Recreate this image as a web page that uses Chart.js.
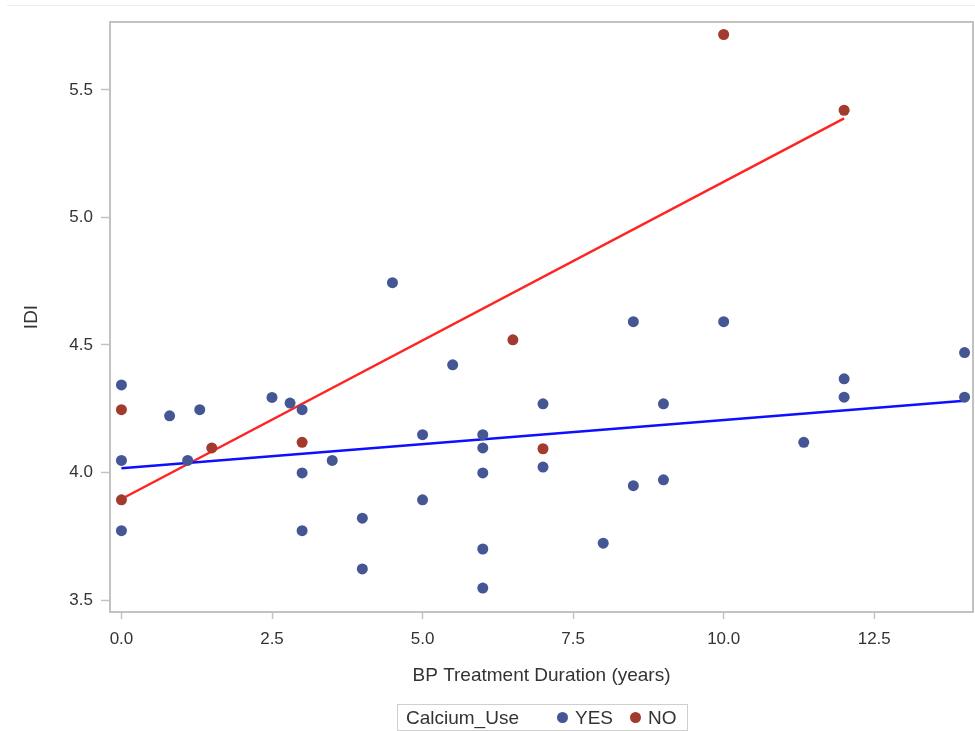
<!DOCTYPE html>
<html>
<head>
<meta charset="utf-8">
<script src="https://cdn.jsdelivr.net/npm/chart.js@4.4.1/dist/chart.umd.min.js"></script>
<style>
  body { margin: 0; background: #fff; }
  #wrap { position: relative; width: 975px; height: 731px; overflow: hidden; }
  #topline { position: absolute; left: 7px; right: 0; top: 5px; border-top: 1px solid #ececec; }
  #legend {
    position: absolute; left: 397px; top: 704px; width: 289px; height: 25px;
    border: 1px solid #cfcfcf; font: 19px "Liberation Sans", Arial, sans-serif; color: #333;
    display: flex; align-items: center; white-space: nowrap;
  }
  #legend .ttl { margin-left: 8px; margin-right: 38px; }
  #legend .dot { display: inline-block; width: 11px; height: 11px; border-radius: 50%; margin-right: 7px; }
  #legend .item { margin-right: 17px; display: flex; align-items: center; }
</style>
</head>
<body>
<div id="wrap">
  <div id="topline"></div>
  <canvas id="chart" width="975" height="731"></canvas>
  <div id="legend"></div>
</div>
<script>
// years of BP treatment vs IDI, split by calcium use
const yesX = [0, 0, 0, 0.8, 1.1, 1.3, 2.5, 2.8, 3, 3, 3, 3.5, 4, 4, 4.5, 5, 5, 5.5,
              6, 6, 6, 6, 6, 7, 7, 8, 8.5, 8.5, 9, 9, 10, 11.33, 12, 12, 14, 14];
const yesY = [4.343, 4.047, 3.772, 4.222, 4.047, 4.246, 4.294, 4.272, 4.246, 3.998, 3.772, 4.047, 3.821, 3.622, 4.744, 4.148, 3.893, 4.422,
              4.148, 4.096, 3.998, 3.70, 3.547, 4.269, 4.021, 3.723, 4.591, 3.948, 4.269, 3.971, 4.591, 4.118, 4.367, 4.295, 4.47, 4.295];
const noX = [0, 0, 1.5, 3, 6.5, 7, 10, 12];
const noY = [4.246, 3.893, 4.096, 4.118, 4.52, 4.093, 5.717, 5.42];

// fitted regression lines (end points)
const fitYesX = [0, 14];
const fitYesY = [4.017, 4.281];
const fitNoX = [0, 12];
const fitNoY = [3.896, 5.388];

const xTicks = [0, 2.5, 5, 7.5, 10, 12.5];
const yTicks = [3.5, 4.0, 4.5, 5.0, 5.5];

const groups = ['YES', 'NO'];
const groupColors = ['#445694', '#a23a2e'];
const lineColors = ['#0f0fff', '#ff2424'];

const FONT = '"Liberation Sans", Arial, sans-serif';
const TEXT = '#333';
const AXIS = '#c2c2c2';

function pts(xs, ys) {
    return xs.map((x, i) => ({ x: x, y: ys[i] }));
}

// draws the box around the plot area
const frame = {
    id: 'frame',
    afterDatasetsDraw(chart) {
        const a = chart.chartArea;
        const ctx = chart.ctx;
        ctx.save();
        ctx.strokeStyle = AXIS;
        ctx.lineWidth = 2;
        ctx.strokeRect(a.left, a.top, a.right - a.left, a.bottom - a.top);
        ctx.restore();
    }
};

new Chart(document.getElementById('chart'), {
    type: 'scatter',
    data: {
        datasets: [
            { label: groups[0], data: pts(yesX, yesY), backgroundColor: groupColors[0], borderWidth: 0, pointRadius: 5.5 },
            { label: groups[1], data: pts(noX, noY), backgroundColor: groupColors[1], borderWidth: 0, pointRadius: 5.5 },
            { label: 'fit ' + groups[0], data: pts(fitYesX, fitYesY), showLine: true, borderColor: lineColors[0], borderWidth: 2.5, pointRadius: 0 },
            { label: 'fit ' + groups[1], data: pts(fitNoX, fitNoY), showLine: true, borderColor: lineColors[1], borderWidth: 2.5, pointRadius: 0 }
        ]
    },
    options: {
        responsive: false,
        animation: false,
        devicePixelRatio: 1,
        layout: { autoPadding: false, padding: { left: 0, top: 22, right: 2, bottom: 34 } },
        plugins: { legend: { display: false }, tooltip: { enabled: false } },
        scales: {
            x: {
                type: 'linear',
                min: -0.19,
                max: 14.14,
                afterBuildTicks: s => { s.ticks = xTicks.map(v => ({ value: v })); },
                afterFit: s => { s.height = 85; s.paddingLeft = 0; s.paddingRight = 0; },
                grid: { drawOnChartArea: false, color: AXIS, tickLength: 7, tickWidth: 1.5 },
                border: { display: false },
                ticks: { color: TEXT, font: { family: FONT, size: 17 }, padding: 10, maxRotation: 0,
                         callback: v => v.toFixed(1) },
                title: { display: true, text: 'BP Treatment Duration (years)', color: TEXT,
                         font: { family: FONT, size: 19 }, padding: { top: 0, bottom: 10 } }
            },
            y: {
                type: 'linear',
                min: 3.453,
                max: 5.766,
                afterBuildTicks: s => { s.ticks = yTicks.map(v => ({ value: v })); },
                afterFit: s => { s.width = 110; s.paddingTop = 0; s.paddingBottom = 0; },
                grid: { drawOnChartArea: false, color: AXIS, tickLength: 9, tickWidth: 1.5 },
                border: { display: false },
                ticks: { color: TEXT, font: { family: FONT, size: 17 }, padding: 8,
                         callback: v => v.toFixed(1) },
                title: { display: true, text: 'IDI', color: TEXT,
                         font: { family: FONT, size: 19 }, padding: { top: 20, bottom: 0 } }
            }
        }
    },
    plugins: [frame]
});

// legend built from the same group names and colours
const legend = document.getElementById('legend');
let html = '<span class="ttl">Calcium_Use</span>';
groups.forEach((g, i) => {
    html += '<span class="item"><span class="dot" style="background:' + groupColors[i] + '"></span>' + g + '</span>';
});
legend.innerHTML = html;
</script>
</body>
</html>
